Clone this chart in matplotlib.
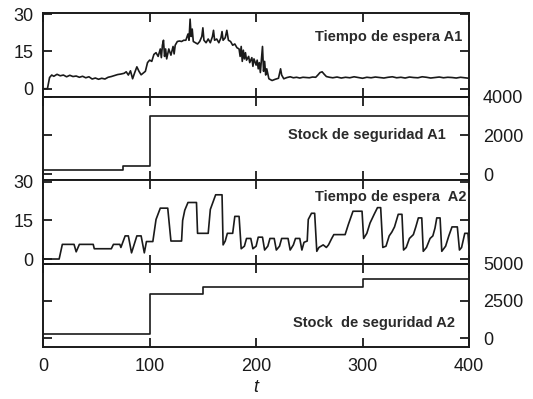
import matplotlib
matplotlib.use("Agg")
import matplotlib.pyplot as plt

plt.rcParams['font.family'] = ['Liberation Sans', 'DejaVu Sans']

# Tiempo de espera A1 (t, valor)
t_a1 = [0, 4, 6, 8, 10, 13, 16, 19, 22, 25, 28, 31, 34, 37, 40, 43, 46, 49, 52, 55,
        58, 61, 64, 67, 70, 73, 76, 78, 80, 82, 84, 86, 88, 90, 92, 94, 96, 98, 100, 102,
        104, 106, 108, 110, 111, 112, 113, 114, 115, 116, 118, 120, 122, 123, 124, 126, 128, 130, 132, 134,
        136, 137, 138, 139, 140, 141, 143, 145, 147, 149, 150, 151, 153, 155, 157, 159, 160, 161, 163, 165,
        167, 168, 169, 171, 172.5, 174, 176, 178, 180, 182, 184, 185, 186, 187, 188, 189, 190, 191, 193, 194,
        196, 197, 198, 200, 201, 202, 203, 204, 205, 206, 207, 208, 209, 210, 212, 215, 218, 221, 223, 224,
        226, 229, 232, 235, 238, 241, 244, 247, 250, 253, 256, 258, 260, 262, 264, 266, 269, 272, 276, 280,
        284, 288, 292, 296, 300, 304, 308, 312, 316, 320, 324, 328, 332, 336, 340, 344, 348, 352, 356, 360,
        364, 368, 372, 376, 380, 384, 388, 392, 396, 400]
v_a1 = [0, 0, 4.5, 5.5, 5.0, 5.8, 5.2, 5.5, 4.8, 5.4, 4.9, 5.1, 4.6, 5.0, 4.4, 4.8, 3.9, 4.3, 3.8, 4.2,
        3.9, 4.6, 4.9, 5.3, 5.7, 5.9, 6.2, 6.8, 5.5, 7.2, 4.0, 6.5, 8.8, 7.0, 5.6, 6.3, 7.0, 10.5, 11.5, 11.0,
        13.8, 14.5, 13.0, 16.0, 12.5, 17.5, 19.5, 13.0, 16.0, 12.0, 16.0, 13.5, 17.0, 14.0, 17.5, 19.0, 19.2, 19.0, 19.5, 19.5,
        22.0, 19.5, 28.0, 21.0, 24.0, 19.0, 18.5, 18.0, 19.0, 21.0, 24.5, 19.5, 18.5, 20.0, 18.5, 21.0, 23.5, 19.5, 20.0, 18.5,
        20.5, 23.0, 19.5, 20.5, 23.5, 19.5, 19.0, 17.5, 18.0, 16.5, 16.0, 13.0, 17.0, 11.0, 15.5, 12.0, 14.5, 11.5, 13.0, 10.5,
        12.5, 9.0, 12.0, 9.5, 11.5, 8.0, 10.5, 6.5, 12.0, 17.0, 7.0, 11.0, 5.5, 8.0, 4.0, 3.3, 3.8, 4.2, 8.0, 5.5,
        4.0, 4.5, 4.8, 4.4, 4.6, 4.3, 4.6, 4.5, 4.4, 4.7, 4.6, 5.5, 6.5, 6.8, 5.8, 4.9, 4.6, 4.4, 4.7, 4.3,
        4.6, 4.4, 4.8, 4.5, 4.2, 4.6, 4.4, 4.7, 4.5, 4.3, 4.6, 4.8, 4.4, 4.6, 4.3, 4.7, 4.5, 4.4, 4.8, 4.6,
        4.3, 4.5, 4.7, 4.4, 4.6, 4.5, 4.3, 4.6, 4.4, 4.2]

# Stock de seguridad A1 (escalones)
t_s1 = [0, 75, 100, 400]
v_s1 = [200, 410, 3010, 3010]

# Tiempo de espera A2 (t, valor)
t_a2 = [0, 15, 18, 29, 31, 34, 47, 48, 64, 66, 72, 73, 77, 80, 83, 88, 92, 95, 97, 103,
        106, 110, 117, 120, 130, 131, 133, 136, 144, 145, 155, 157, 162, 168, 169, 171, 173, 178, 180, 184,
        186, 189, 191, 195, 197, 200, 202, 206, 208, 211, 213, 217, 219, 222, 224, 230, 232, 235, 237, 241,
        243, 245, 248, 249, 252, 255, 257, 259, 263, 266, 268, 271, 273, 283.6, 286.6, 291, 299.5, 301, 304, 307,
        311, 314, 317, 319, 322, 325, 327.5, 330, 333.5, 337, 338.5, 341, 344, 347.7, 350, 352.4, 355.6, 357, 360, 363.4,
        366, 368, 369.7, 372.8, 374.4, 378, 381, 384, 389, 391, 393, 396, 399, 400]
v_a2 = [0, 0, 5.7, 5.7, 2.8, 5.7, 5.7, 4.0, 4.0, 5.7, 5.7, 4.5, 9.0, 9.0, 2.4, 9.0, 9.0, 2.4, 6.8, 6.8,
        15.4, 19.8, 19.8, 7.0, 7.0, 15.0, 19.0, 22.0, 22.0, 10.0, 10.0, 19.3, 25.0, 25.0, 5.5, 7.0, 10.0, 10.0, 16.6, 16.6,
        4.0, 5.0, 8.0, 8.0, 4.0, 5.0, 8.5, 8.5, 3.5, 5.0, 8.0, 8.0, 3.5, 5.0, 8.0, 8.0, 3.5, 5.5, 8.0, 8.0,
        3.5, 6.5, 7.0, 15.4, 17.8, 17.8, 3.0, 4.5, 5.5, 4.5, 5.5, 8.0, 9.5, 9.5, 13.4, 18.6, 18.6, 8.0, 10.0, 14.0,
        17.5, 20.0, 20.0, 4.5, 5.0, 9.0, 10.5, 12.5, 17.4, 17.4, 3.5, 4.5, 8.0, 9.5, 12.5, 16.0, 16.0, 3.0, 4.5, 8.0,
        9.0, 12.0, 16.0, 16.0, 3.0, 5.0, 9.0, 12.5, 12.5, 3.5, 4.5, 10.0, 10.0, 4.0]

# Stock de seguridad A2 (escalones)
t_s2 = [0, 100, 150, 300, 400]
v_s2 = [260, 2960, 3420, 3950, 3950]

x_ticks = [0, 100, 200, 300, 400]
wait_ticks = [0, 15, 30]
s1_ticks = [0, 2000, 4000]
s2_ticks = [0, 2500, 5000]

fig, axes = plt.subplots(4, 1, sharex=True, figsize=(5.33, 3.99), dpi=100)
fig.subplots_adjust(left=0.081, right=0.880, top=0.967, bottom=0.130, hspace=0)

col = '#1a1a1a'
lw = 1.2

ax1, ax2, ax3, ax4 = axes
ax1.plot(t_a1, v_a1, color=col, lw=lw)
ax2.plot(t_s1, v_s1, color=col, lw=lw, drawstyle='steps-post')
ax3.plot(t_a2, v_a2, color=col, lw=lw)
ax4.plot(t_s2, v_s2, color=col, lw=lw, drawstyle='steps-post')

ax1.set_ylim(-3.2, 30.4)
ax2.set_ylim(-312, 4000)
ax3.set_ylim(-1.8, 30.7)
ax4.set_ylim(-590, 5000)

ax1.set_yticks(wait_ticks)
ax2.set_yticks(s1_ticks)
ax3.set_yticks(wait_ticks)
ax4.set_yticks(s2_ticks)

for i, ax in enumerate(axes):
    ax.set_xlim(0, 400)
    ax.set_xticks(x_ticks)
    for sp in ax.spines.values():
        sp.set_linewidth(1.4)
        sp.set_color(col)
    # tiempos de espera con etiquetas a la izquierda, stocks a la derecha
    left_lab = i in (0, 2)
    ax.tick_params(axis='both', direction='in', length=6.5, width=1.3, color=col,
                   top=True, bottom=True, left=True, right=True,
                   labelleft=left_lab, labelright=not left_lab,
                   labelbottom=(i == 3), labelsize=13, labelcolor=col)
    ax.tick_params(axis='y', pad=10 if not left_lab else 7)
    ax.tick_params(axis='x', pad=8)

ax4.set_xlabel('t', fontsize=13, style='italic', labelpad=3, color=col)

kw = dict(fontsize=10.5, fontweight='bold', color='#2a2a2a', ha='right', va='center')
ax1.text(0.984, 0.72, 'Tiempo de espera A1', transform=ax1.transAxes, **kw)
ax2.text(0.946, 0.54, 'Stock de seguridad A1', transform=ax2.transAxes, **kw)
ax3.text(0.995, 0.80, 'Tiempo de espera  A2', transform=ax3.transAxes, **kw)
ax4.text(0.967, 0.29, 'Stock  de seguridad A2', transform=ax4.transAxes, **kw)

plt.savefig('out.png', dpi=100)
plt.close()
